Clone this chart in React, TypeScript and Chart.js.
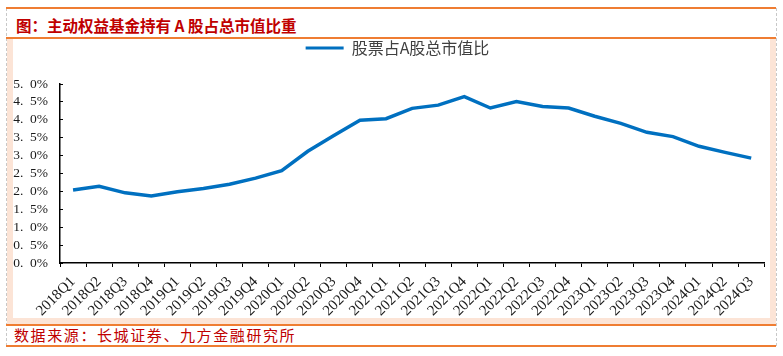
import React, { useEffect, useRef } from "react";
import { Chart, registerables } from "chart.js";

Chart.register(...registerables);

const categories = [
  "2018Q1", "2018Q2", "2018Q3", "2018Q4",
  "2019Q1", "2019Q2", "2019Q3", "2019Q4",
  "2020Q1", "2020Q2", "2020Q3", "2020Q4",
  "2021Q1", "2021Q2", "2021Q3", "2021Q4",
  "2022Q1", "2022Q2", "2022Q3", "2022Q4",
  "2023Q1", "2023Q2", "2023Q3", "2023Q4",
  "2024Q1", "2024Q2", "2024Q3",
];

const shareValues = [
  2.04, 2.14, 1.96, 1.87,
  1.99, 2.08, 2.2, 2.37,
  2.58, 3.12, 3.56, 3.99,
  4.03, 4.32, 4.41, 4.65,
  4.33, 4.51, 4.37, 4.33,
  4.1, 3.9, 3.65, 3.53,
  3.26, 3.09, 2.93,
];

const seriesName = "股票占A股总市值比";
const titleText = "图：主动权益基金持有 A 股占总市值比重";
const sourceText = "数据来源：长城证券、九方金融研究所";

const yMin = 0;
const yMax = 5;
const yStep = 0.5;

const ORANGE = "#ef7d32";
const PEACH = "#fce4d6";
const RED = "#c00000";
const BLUE = "#0070c0";

export default function App() {
  const canvasRef = useRef<HTMLCanvasElement | null>(null);

  useEffect(() => {
    if (!canvasRef.current) return;
    const legendMargin = {
      id: "legendMargin",
      beforeInit(chart: any) {
        const legend = chart.legend;
        if (!legend) return;
        const orig = legend.fit;
        legend.fit = function () {
          orig.call(this);
          this.height += 18;
        };
      },
      afterLayout(chart: any) {
        const legend = chart.legend;
        if (!legend) return;
        legend.left += 8;
        legend.right += 8;
      },
    };
    const chart = new Chart(canvasRef.current, {
      type: "line",
      data: {
        labels: categories,
        datasets: [
          {
            label: seriesName,
            data: shareValues,
            borderColor: BLUE,
            backgroundColor: BLUE,
            borderWidth: 3.5,
            pointRadius: 0,
            tension: 0,
          },
        ],
      },
      options: {
        animation: false,
        responsive: false,
        maintainAspectRatio: false,
        layout: { padding: { left: 0, right: 4, top: 0, bottom: 0 } },
        plugins: {
          tooltip: { enabled: false },
          legend: {
            display: true,
            position: "top",
            labels: {
              boxWidth: 38,
              boxHeight: 3,
              padding: 1,
              color: "#404040",
              font: { family: "'Noto Sans CJK SC'", size: 16 },
              generateLabels: (c: any) =>
                (Chart.defaults.plugins.legend.labels as any)
                  .generateLabels(c)
                  .map((l: any) => ({ ...l, lineWidth: 0, fillStyle: BLUE })),
            },
          },
        },
        scales: {
          x: {
            type: "category",
            offset: true,
            grid: {
              display: true,
              offset: true,
              drawOnChartArea: false,
              drawTicks: true,
              tickLength: 4,
              color: "#000",
              lineWidth: 1,
            },
            border: { display: true, color: "#000", width: 1.5 },
            ticks: {
              autoSkip: false,
              minRotation: 45,
              maxRotation: 45,
              padding: 6,
              color: "#1a1a1a",
              font: { family: "'Liberation Serif'", size: 15 },
            },
            afterFit: (s: any) => {
              s.height = 56;
            },
          },
          y: {
            min: yMin,
            max: yMax,
            grid: {
              display: true,
              drawOnChartArea: false,
              drawTicks: true,
              tickLength: -3,
              color: "#000",
              lineWidth: 1,
            },
            border: { display: true, color: "#000", width: 1.5 },
            ticks: {
              autoSkip: false,
              stepSize: yStep,
              padding: 15,
              color: "#1a1a1a",
              font: { family: "'Liberation Serif'", size: 13.5 },
              callback: (v: any) =>
                Number(v).toFixed(1).replace(".", ".\u2002") + "%",
            },
            afterFit: (s: any) => {
              s.width = 47;
            },
          },
        },
      },
      plugins: [legendMargin],
    });
    return () => chart.destroy();
  }, []);

  const abs = (style: React.CSSProperties): React.CSSProperties => ({
    position: "absolute",
    ...style,
  });

  return (
    <div
      style={{
        position: "absolute",
        left: 0,
        top: 0,
        width: 783,
        height: 356,
        background: "#fff",
        overflow: "hidden",
      }}
    >
      {/* dashed side lines */}
      <div style={abs({ left: 6, top: 8, width: 0, height: 338, borderLeft: "1px dashed #c8c8c8" })} />
      <div style={abs({ left: 776, top: 8, width: 0, height: 338, borderLeft: "1px dashed #c8c8c8" })} />
      {/* orange rules */}
      <div style={abs({ left: 6, top: 7, width: 770, height: 1.5, background: ORANGE })} />
      <div style={abs({ left: 6, top: 37, width: 770, height: 1.5, background: ORANGE })} />
      <div style={abs({ left: 6, top: 324, width: 770, height: 1.5, background: ORANGE })} />
      <div style={abs({ left: 6, top: 345, width: 770, height: 1.5, background: ORANGE })} />
      {/* peach bands */}
      <div style={abs({ left: 7, top: 38.5, width: 6, height: 285, background: PEACH })} />
      <div style={abs({ left: 770, top: 38.5, width: 6, height: 285, background: PEACH })} />
      <div style={abs({ left: 7, top: 318, width: 769, height: 5.5, background: PEACH })} />
      {/* title */}
      <div
        style={abs({
          left: 16,
          top: 14,
          height: 22,
          lineHeight: "22px",
          fontFamily: "'Noto Sans CJK SC'",
          fontWeight: 700,
          fontSize: 15.5,
          color: RED,
          whiteSpace: "pre",
        })}
      >
        {titleText}
      </div>
      {/* source */}
      <div
        style={abs({
          left: 14,
          top: 325,
          height: 20,
          lineHeight: "20px",
          fontFamily: "'Noto Sans CJK SC'",
          fontSize: 15,
          letterSpacing: 1.6,
          color: RED,
          whiteSpace: "nowrap",
        })}
      >
        {sourceText}
      </div>
      {/* chart */}
      <div style={abs({ left: 13, top: 38.5, width: 757, height: 279.5, background: "#fff" })}>
        <canvas ref={canvasRef} width={757} height={280} style={{ display: "block", width: 757, height: 280 }} />
      </div>
    </div>
  );
}
